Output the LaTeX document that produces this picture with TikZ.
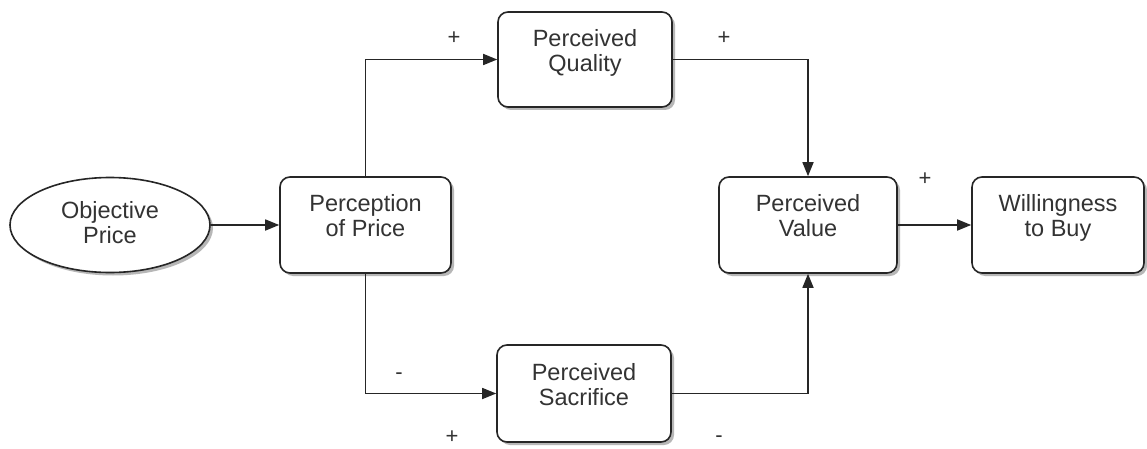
\documentclass[tikz,border=0pt]{standalone}
\usepackage{fontspec}
\setmainfont{Liberation Sans}
\usetikzlibrary{arrows.meta,shadows,shapes.geometric}
\definecolor{ink}{HTML}{262626}
\definecolor{txt}{HTML}{333333}
\begin{document}
\begin{tikzpicture}[x=1pt,y=-1pt,
  every node/.style={font=\fontsize{23.5}{25}\selectfont, text=txt},
  box/.style={draw=ink, line width=1.6pt, rounded corners=10pt, fill=white,
    minimum width=174pt, minimum height=96pt, inner sep=0pt, align=center,
    text depth=19pt,
    drop shadow={shadow xshift=3pt, shadow yshift=-3pt, fill=black!35, opacity=0.8}},
  oval/.style={box, ellipse, text depth=6pt, minimum width=200pt, minimum height=95pt},
  link/.style={draw=ink, line width=1.6pt, -{Triangle[length=14pt,width=11pt]}},
  sign/.style={inner sep=0pt, font=\fontsize{22}{22}\selectfont}]
  \useasboundingbox (0,0) rectangle (1147,449);
  \fill[white] (0,0) rectangle (1147,449);

  % causal chain
  \node[oval] (obj) at (110,225) {Objective\\Price};
  \node[box, minimum width=171pt] (perc) at (365.5,225) {Perception\\of Price};
  \node[box, minimum height=95pt] (qual) at (585,59.5) {Perceived\\Quality};
  \node[box, minimum height=97pt] (sac) at (584,393.5) {Perceived\\Sacrifice};
  \node[box, minimum width=178pt] (val) at (808,225) {Perceived\\Value};
  \node[box, minimum width=172pt] (buy) at (1058,225) {Willingness\\to Buy};

  % connectors
  \draw[link] (obj.east) -- (perc.west);
  \draw[link] (perc.north) |- (qual.west);
  \draw[link] (perc.south) |- (sac.west);
  \draw[link] (qual.east) -| (val.north);
  \draw[link] (sac.east) -| (val.south);
  \draw[link] (val.east) -- (buy.west);

  % signs of the effects
  \node[sign] (s1) at (454,38) {+};
  \node[sign] (s2) at (724,38) {+};
  \node[sign] (s3) at (399,376) {-};
  \node[sign] (s4) at (452,437) {+};
  \node[sign] (s5) at (719,439) {-};
  \node[sign] (s6) at (925,179) {+};
\end{tikzpicture}
\end{document}
